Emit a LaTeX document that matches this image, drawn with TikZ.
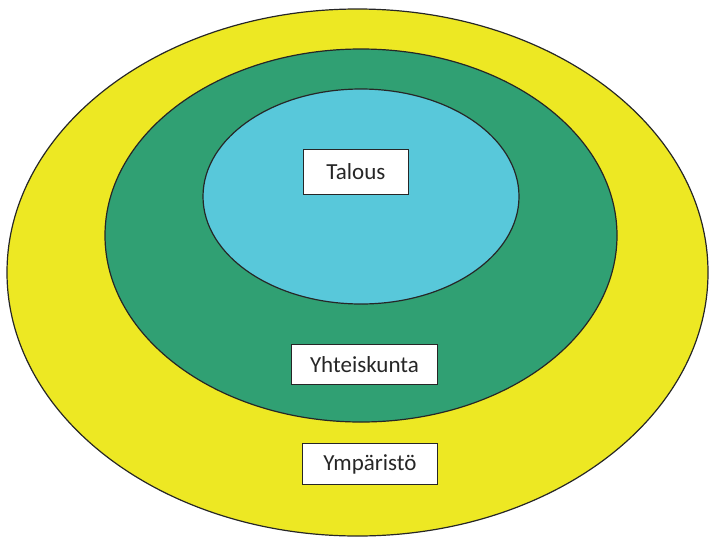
\documentclass[tikz,border=0pt]{standalone}
\usepackage{fontspec}
\setmainfont{Carlito}
\definecolor{yel}{HTML}{EDE823}
\definecolor{grn}{HTML}{30A073}
\definecolor{cyn}{HTML}{58C8DA}
\definecolor{txt}{HTML}{262626}
\begin{document}
\begin{tikzpicture}[x=1pt,y=-1pt,
  ring/.style={draw=black!85, line width=1.2pt},
  label/.style={draw=black!85, fill=white, line width=0.9pt, text=txt, font=\fontsize{23}{27}\selectfont, inner sep=0pt, anchor=north west}]
\useasboundingbox (0,0) rectangle (709,536);
\path[ring, fill=yel] (357.5,272.5) ellipse [x radius=350.5, y radius=263.5];
\path[ring, fill=grn] (361,235.5) ellipse [x radius=256, y radius=186.5];
\path[ring, fill=cyn] (361,196.5) ellipse [x radius=158, y radius=107.5];
\node[label, minimum width=105pt, minimum height=45pt] (talous) at (303,149) {Talous\hspace{8pt}};
\node[label, minimum width=146pt, minimum height=40pt] (yht) at (291,344) {Yhteiskunta};
\node[label, minimum width=135pt, minimum height=41pt] (ymp) at (302,443) {Ympäristö\hspace{4pt}};
\end{tikzpicture}
\end{document}
